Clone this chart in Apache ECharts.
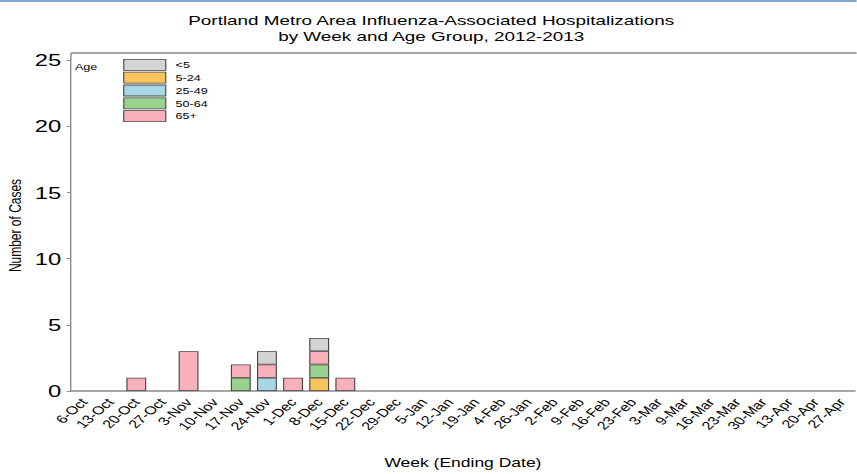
<!DOCTYPE html>
<html><head><meta charset="utf-8">
<script src="https://cdn.jsdelivr.net/npm/echarts@6/dist/echarts.min.js"></script>
<style>
html,body{margin:0;padding:0;background:#fff;overflow:hidden}
#wrap{width:857px;height:474px;position:relative;overflow:hidden}
#c{width:612px;height:474px;transform:scaleX(1.4);transform-origin:0 0}
</style>
</head><body><div id="wrap"><div id="c"></div></div>
<script>
const weeks = ['6-Oct','13-Oct','20-Oct','27-Oct','3-Nov','10-Nov','17-Nov','24-Nov','1-Dec','8-Dec','15-Dec','22-Dec','29-Dec','5-Jan','12-Jan','19-Jan','4-Feb','26-Jan','2-Feb','9-Feb','16-Feb','23-Feb','3-Mar','9-Mar','16-Mar','23-Mar','30-Mar','13-Apr','20-Apr','27-Apr'];
const ageUnder5 = [0,0,0,0,0,0,0,1,0,1,0,0,0,0,0,0,0,0,0,0,0,0,0,0,0,0,0,0,0,0];
const age5to24  = [0,0,0,0,0,0,0,0,0,1,0,0,0,0,0,0,0,0,0,0,0,0,0,0,0,0,0,0,0,0];
const age25to49 = [0,0,0,0,0,0,0,1,0,0,0,0,0,0,0,0,0,0,0,0,0,0,0,0,0,0,0,0,0,0];
const age50to64 = [0,0,0,0,0,0,1,0,0,1,0,0,0,0,0,0,0,0,0,0,0,0,0,0,0,0,0,0,0,0];
const age65plus = [0,0,1,0,3,0,1,1,1,1,1,0,0,0,0,0,0,0,0,0,0,0,0,0,0,0,0,0,0,0];
const legendOrder = ['<5','5-24','25-49','50-64','65+'];
const yTicks = [0,5,10,15,20,25];

const colors = {'<5':'#d3d3d3','5-24':'#f9c45e','25-49':'#a9d6e5','50-64':'#98d28d','65+':'#f8b1bb'};
const stackSeries = [['5-24',age5to24],['25-49',age25to49],['50-64',age50to64],['65+',age65plus],['<5',ageUnder5]];

const W = 612;
const chart = echarts.init(document.getElementById('c'), null, {renderer:'svg', width:W, height:474});
const font = 'Liberation Sans, Arial, sans-serif';
chart.setOption({
  animation:false,
  textStyle:{fontFamily:font},
  title:{text:'Portland Metro Area Influenza-Associated Hospitalizations\nby Week and Age Group, 2012-2013',
    left:303, top:7, textAlign:'center',
    textStyle:{fontSize:13.5, fontWeight:'normal', color:'#000', lineHeight:16, fontFamily:font}},
  legend:{data:legendOrder, orient:'vertical', left:83, top:54, itemWidth:30, itemHeight:11, itemGap:1,
    icon:'rect', itemStyle:{borderWidth:0.8, borderColor:'#444'},
    textStyle:{fontSize:9, color:'#000', fontFamily:font, padding:[0,0,0,2]}},
  grid:{left:50.7, right:1.4, top:60, bottom:83, containLabel:false, outerBoundsMode:'none'},
  xAxis:{type:'category', data:weeks, boundaryGap:true,
    name:'Week (Ending Date)', nameLocation:'middle', nameGap:65,
    nameTextStyle:{fontSize:12.5, color:'#000', fontFamily:font},
    axisLine:{lineStyle:{color:'#8a8a8a', width:1.5}},
    axisTick:{show:false},
    axisLabel:{rotate:50, interval:0, fontSize:11.5, color:'#000', margin:9, fontFamily:font}},
  yAxis:{type:'value', min:0, max:25, interval:5,
    name:'Number of Cases', nameLocation:'middle', nameGap:33.5, nameMoveOverlap:false,
    nameTextStyle:{fontSize:12, color:'#000', fontFamily:'Liberation Sans Narrow, Arial Narrow, sans-serif'},
    axisLine:{show:true, lineStyle:{color:'#8a8a8a'}},
    axisTick:{show:true, length:3, lineStyle:{color:'#8a8a8a'}},
    splitLine:{show:false},
    axisLabel:{fontSize:17, color:'#000', margin:7, fontFamily:font,
      formatter:v=>yTicks.includes(v)?String(v):''}},
  graphic:[
    {type:'line', shape:{x1:0,y1:1,x2:W,y2:1}, style:{stroke:'#7fa9d1', lineWidth:2}},
    {type:'line', shape:{x1:50.7,y1:53,x2:W,y2:53}, style:{stroke:'#8a8a8a', lineWidth:1.5}},
    {type:'line', shape:{x1:50.7,y1:53,x2:50.7,y2:60}, style:{stroke:'#8a8a8a', lineWidth:1}},
    {type:'text', left:53.5, top:62, style:{text:'Age', fontSize:9, fill:'#000', fontFamily:font}}
  ],
  series: stackSeries.map(([name,vals])=>({
    name, type:'bar', stack:'age', data:vals.map(v=>v===0?null:v), barWidth:14.2,
    itemStyle:{color:colors[name], borderColor:'#444', borderWidth:0.8}
  }))
});
</script></body></html>
